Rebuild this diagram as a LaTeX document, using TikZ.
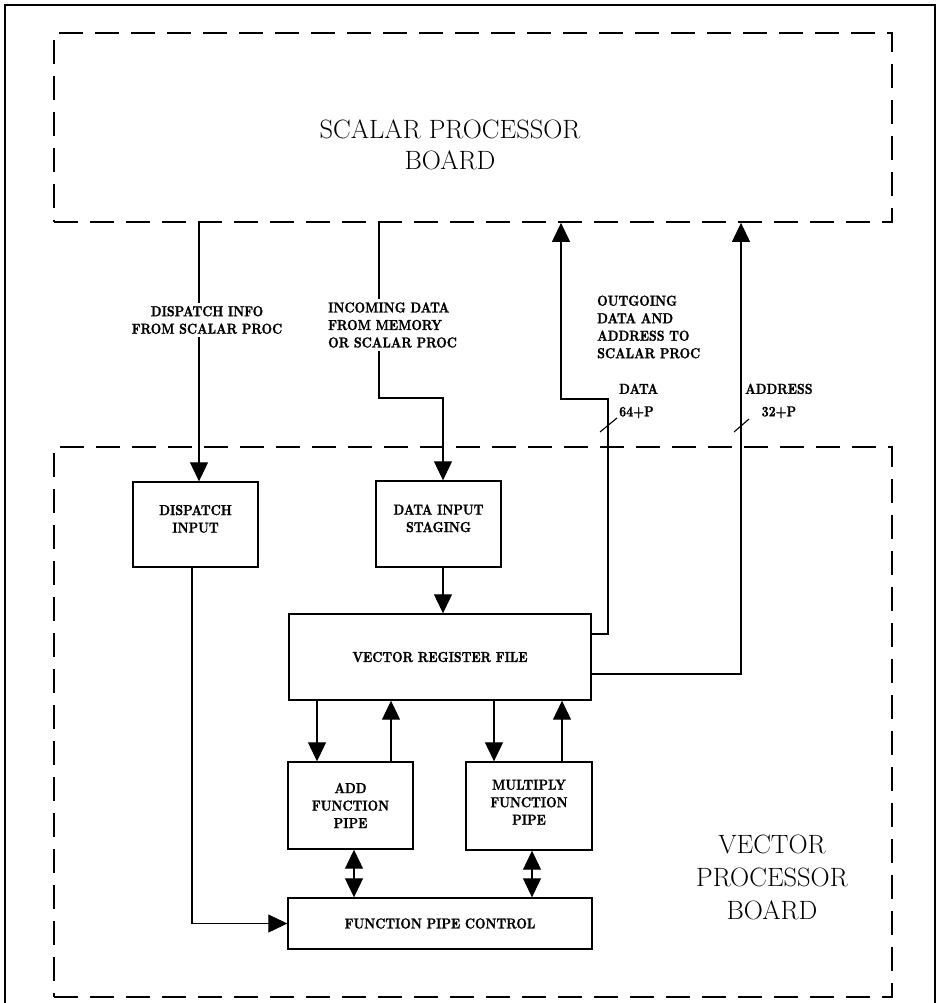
\documentclass[tikz,border=0pt]{standalone}
\usepackage{fontspec}
\newfontfamily\lblfont{lmroman10-bold}[Extension=.otf,FakeStretch=0.84,FakeBold=1.2]
\usetikzlibrary{arrows.meta,calc}
\begin{document}
\begin{tikzpicture}[x=1pt,y=-1pt,
  board/.style={draw,dashed,dash pattern=on 24pt off 12pt,line width=1.8pt,inner sep=0pt},
  blk/.style={draw,line width=1.4pt,align=center,inner sep=0pt,font=\lbl},
  conn/.style={line width=1.1pt},
  arr/.style={conn,-{Triangle[width=18pt,length=19pt]}},
  darr/.style={conn,{Triangle[width=18pt,length=19pt]}-{Triangle[width=18pt,length=19pt]}},
  lab/.style={font=\lbl,fill=white,inner sep=3pt},
  big/.style={font=\fontsize{26.5}{31}\selectfont,align=center}
]
\newcommand{\lbl}{\lblfont\fontsize{14.5}{17.5}\selectfont}
\useasboundingbox (0,0) rectangle (937,1003);
% outer frame
\draw[line width=1.8pt] (5,1003) -- (5,5) -- (935,5) -- (935,1003);
% boards
\node[board,minimum width=838pt,minimum height=189pt] (scal) at (473,127.5) {};
\node[board,minimum width=838pt,minimum height=550pt] (vec) at (473,722) {};
\node[big] (stext) at (450,145) {SCALAR PROCESSOR\\BOARD};
\node[big,font=\fontsize{26.5}{33}\selectfont] (vtext) at (772,877) {VECTOR\\PROCESSOR\\BOARD};
% blocks
\node[blk,minimum width=125pt,minimum height=85pt] (di) at (195.5,524.5) {DISPATCH\\INPUT\\[-6pt]};
\node[blk,minimum width=125pt,minimum height=86pt] (dis) at (438.5,524) {DATA INPUT\\STAGING\\[-6pt]};
\node[blk,minimum width=302pt,minimum height=86pt] (vrf) at (440,657) {VECTOR REGISTER FILE};
\node[blk,minimum width=125pt,minimum height=87pt] (add) at (350.5,805.5) {ADD\\FUNCTION\\PIPE};
\node[blk,minimum width=126pt,minimum height=88pt] (mul) at (529,806) {MULTIPLY\\FUNCTION\\PIPE\\[-10pt]};
\node[blk,minimum width=304pt,minimum height=51pt] (fpc) at (440,923.5) {FUNCTION PIPE CONTROL};
% connectors from scalar board
\coordinate (dx) at (199,0);
\draw[arr] (scal.south -| dx) -- (dx |- di.north);
\coordinate (in1) at (379,398);
\coordinate (in2) at (443,398);
\draw[arr] (scal.south -| in1) -- (in1) -- (in2) -- (in2 |- dis.north);
\node[lab,align=center] (l1) at (207,320) {DISPATCH INFO\\FROM SCALAR PROC};
\node[lab,align=left,anchor=west] (l2) at (325,325) {INCOMING DATA\\FROM MEMORY\\OR SCALAR PROC};
% outgoing
\coordinate (o1) at (608,634);
\coordinate (o2) at (608,399);
\coordinate (o3) at (561,399);
\draw[arr] (vrf.east |- o1) -- (o1) -- (o2) -- (o3) -- (o3 |- scal.south);
\coordinate (a1) at (741,674);
\draw[arr] (vrf.east |- a1) -- (a1) -- (a1 |- scal.south);
\draw[line width=1.1pt] (600,432) -- (617,418);
\draw[line width=1.1pt] (734,432) -- (749,419);
\node[font=\lbl,align=left,anchor=west,inner sep=0pt] (l3) at (597,327) {OUTGOING\\DATA AND\\ADDRESS TO\\SCALAR PROC};
\node[font=\lbl,align=left,anchor=west,inner sep=0pt] (l4) at (619,401) {DATA\\[5pt]64+P};
\node[font=\lbl,align=center,anchor=west,inner sep=0pt] (l5) at (745,401) {ADDRESS\\[5pt]32+P};
% internal
\draw[arr] ([xshift=4.5pt]dis.south) -- ([xshift=4.5pt]dis.south |- vrf.north);
\draw[arr] (vrf.south -| 317,0) -- (317,0 |- add.north);
\draw[arr] (add.north -| 391,0) -- (391,0 |- vrf.south);
\draw[arr] (vrf.south -| 494,0) -- (494,0 |- mul.north);
\draw[arr] (mul.north -| 562,0) -- (562,0 |- vrf.south);
\draw[darr] (add.south -| 354,0) -- (354,0 |- fpc.north);
\draw[darr] (mul.south -| 532,0) -- (532,0 |- fpc.north);
\coordinate (d1) at (192,923.5);
\draw[arr] (di.south -| d1) -- (d1) -- (fpc.west);
\end{tikzpicture}
\end{document}
